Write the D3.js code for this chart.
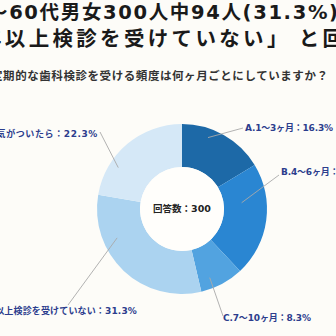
<!DOCTYPE html>
<html>
<head>
<meta charset="utf-8">
<script src="https://cdn.jsdelivr.net/npm/d3@7/dist/d3.min.js"></script>
<style>
html,body{margin:0;padding:0;background:#fdfcf8;overflow:hidden;}
svg{display:block;}
</style>
</head>
<body>
<script>
// ---- data ----
const titleLines = ["～60代男女300人中94人(31.3%)", "年以上検診を受けていない」 と回"];
const question = "定期的な歯科検診を受ける頻度は何ヶ月ごとにしていますか？";
const centerLabel = "回答数：300";
const categories = ["A.1～3ヶ月", "B.4～6ヶ月", "C.7～10ヶ月", "D.1年以上検診を受けていない", "E.異常に気がついたら"];
const values = [16.3, 21.7, 8.3, 31.3, 22.3];
const colors = ["#1d69a7", "#2a86d2", "#52a3e0", "#abd3f0", "#d5e8f7"];

// ---- layout ----
const W = 336, H = 336;
const cx = 182, cy = 209, rOuter = 85, rInner = 42;
// pointer start (angle deg, radius) and label anchor for each slice
const labelLayout = [
  {a: 20,  r: 76, lx: 243, ly: 128, tx: 245, ty: 128, anchor: "start", len: 88, ls: 0},
  {a: 84,  r: 60, lx: 279, ly: 175, tx: 281, ty: 172, anchor: "start", len: 88, ls: 0},
  {a: 158, r: 74, lx: 223, ly: 316, tx: 223, ty: 318, anchor: "start", len: 88, ls: 0},
  {a: 246, r: 71, lx: 68,  ly: 305, tx: 137, ty: 311, anchor: "end",   len: null, ls: 0.15},
  {a: 303, r: 76, lx: 100, ly: 132, tx: 98,  ty: 134, anchor: "end",   len: null, ls: 0.6}
];

const svg = d3.select("body").append("svg").attr("width", W).attr("height", H);
svg.append("rect").attr("width", W).attr("height", H).attr("fill", "#fdfcf8");

// title
svg.append("text").attr("x", -12).attr("y", 12)
  .attr("dominant-baseline", "central")
  .attr("font-family", "'DejaVu Sans','Noto Sans CJK JP',sans-serif")
  .attr("font-weight", "bold").attr("font-size", 19.5).attr("fill", "#1a1a1a")
  .attr("textLength", 350).attr("lengthAdjust", "spacing")
  .text(titleLines[0]);
svg.append("text").attr("x", -19).attr("y", 36.5)
  .attr("dominant-baseline", "central")
  .attr("font-family", "'Noto Sans CJK JP',sans-serif")
  .attr("font-weight", "bold").attr("font-size", 20.5).attr("fill", "#1a1a1a")
  .attr("textLength", 362).attr("lengthAdjust", "spacing")
  .text(titleLines[1]);

// question
svg.append("text").attr("x", -9).attr("y", 75)
  .attr("dominant-baseline", "central")
  .attr("font-family", "'Noto Sans CJK JP',sans-serif")
  .attr("font-weight", "bold").attr("font-size", 11.5).attr("fill", "#333")
  .attr("textLength", 337).attr("lengthAdjust", "spacing")
  .text(question);

// donut
const pie = d3.pie().sort(null).value(d => d);
const arcs = pie(values);
const arc = d3.arc().innerRadius(rInner).outerRadius(rOuter);
const g = svg.append("g").attr("transform", `translate(${cx},${cy})`);
g.selectAll("path.slice").data(arcs).enter().append("path")
  .attr("class", "slice")
  .attr("d", arc)
  .attr("fill", (d, i) => colors[i]);
g.append("circle").attr("r", rInner).attr("fill", "#fffefb");
g.append("text").attr("x", 0).attr("y", -1)
  .attr("text-anchor", "middle").attr("dominant-baseline", "central")
  .attr("font-family", "'DejaVu Sans','Noto Sans CJK JP',sans-serif")
  .attr("font-weight", "bold").attr("font-size", 9.5).attr("fill", "#222")
  .text(centerLabel);

// leader lines + labels
arcs.forEach((d, i) => {
  const L = labelLayout[i];
  const ang = L.a * Math.PI / 180;
  const sx = cx + L.r * Math.sin(ang), sy = cy - L.r * Math.cos(ang);
  svg.append("line").attr("x1", sx).attr("y1", sy).attr("x2", L.lx).attr("y2", L.ly)
    .attr("stroke", "#a9a9a9").attr("stroke-width", 0.9);
  const t = svg.append("text").attr("x", L.tx).attr("y", L.ty)
    .attr("text-anchor", L.anchor).attr("dominant-baseline", "central")
    .attr("font-family", "'DejaVu Sans','Noto Sans CJK JP',sans-serif")
    .attr("font-weight", "bold").attr("font-size", 9).attr("fill", "#2c3d8d")
    .attr("letter-spacing", L.ls)
    .text(`${categories[i]}：${d3.format(".1f")(values[i])}%`);
  if (L.len) t.attr("textLength", L.len).attr("lengthAdjust", "spacing");
});
</script>
</body>
</html>
